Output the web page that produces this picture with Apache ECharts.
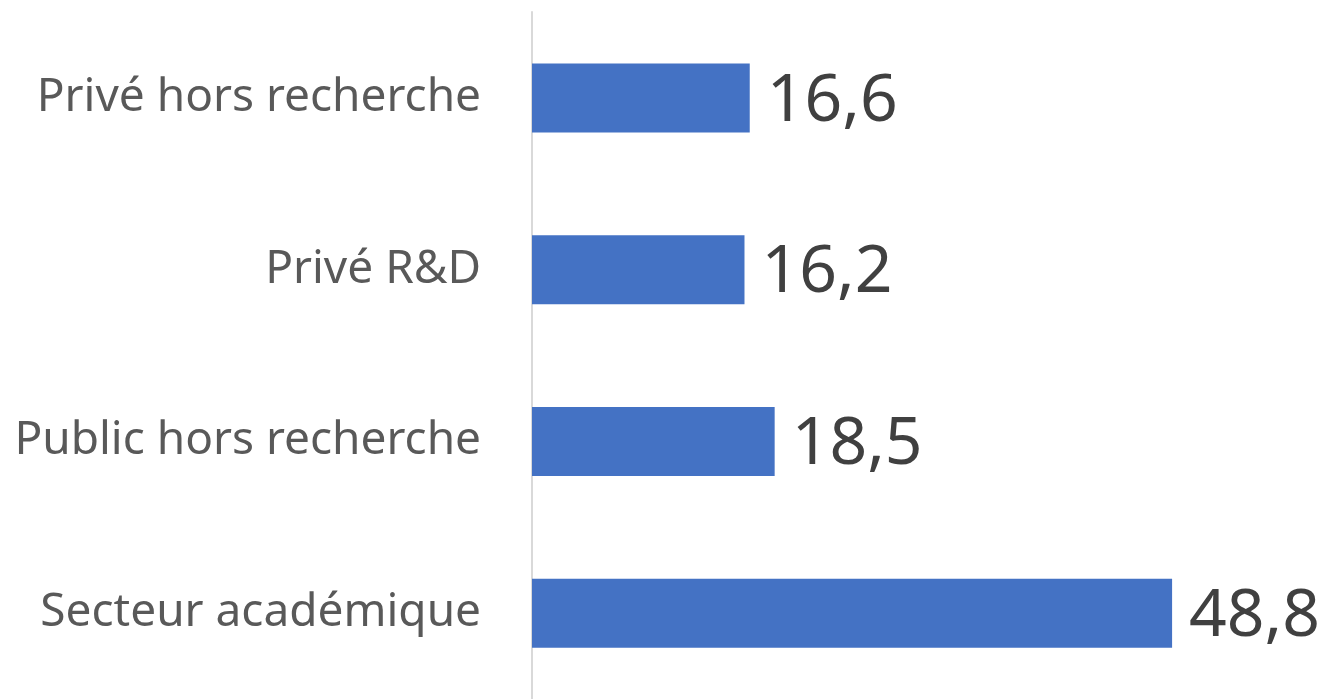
<!DOCTYPE html>
<html>
<head>
<meta charset="utf-8">
<script src="https://cdn.jsdelivr.net/npm/echarts@6/dist/echarts.min.js"></script>
<style>
  html, body { margin: 0; padding: 0; background: #fff; }
  #main { width: 1324px; height: 699px; }
</style>
</head>
<body>
<div id="main"></div>
<script>
// catégories, du haut vers le bas
var categories = ['Privé hors recherche', 'Privé R&D', 'Public hors recherche', 'Secteur académique'];
var values = [16.6, 16.2, 18.5, 48.8];

var myChart = echarts.init(document.getElementById('main'));
var option = {
  animation: false,
  grid: { left: 532, right: 5, top: 12, height: 693 },
  xAxis: {
    type: 'value',
    min: 0,
    max: 60,
    show: false
  },
  yAxis: {
    type: 'category',
    data: categories,
    inverse: true,
    axisLine: { lineStyle: { color: '#d9d9d9', width: 2 } },
    axisTick: { show: false },
    axisLabel: {
      margin: 51,
      color: '#595959',
      fontSize: 46,
      fontFamily: 'Noto Sans'
    }
  },
  series: [{
    type: 'bar',
    data: values,
    barWidth: 69,
    itemStyle: { color: '#4472C4' },
    label: {
      show: true,
      position: 'right',
      distance: 17,
      offset: [0, 4],
      color: '#404040',
      fontSize: 66,
      fontFamily: 'Noto Sans',
      formatter: function (p) { return String(p.value).replace('.', ','); }
    }
  }]
};
myChart.setOption(option);
</script>
</body>
</html>
